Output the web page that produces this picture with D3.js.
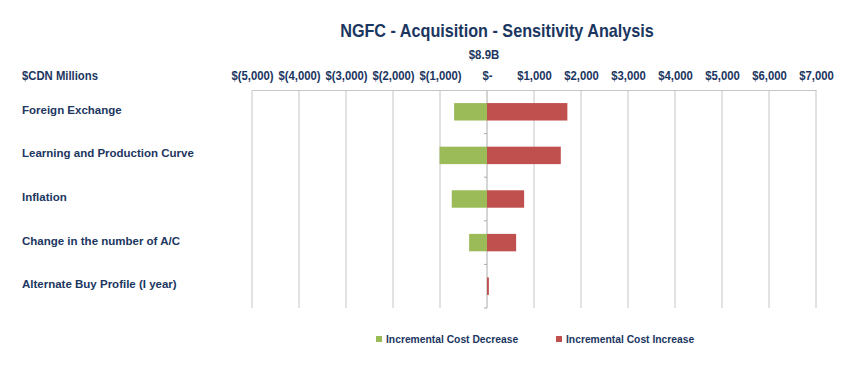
<!DOCTYPE html>
<html>
<head>
<meta charset="utf-8">
<script src="https://cdnjs.cloudflare.com/ajax/libs/d3/7.8.5/d3.min.js"></script>
<style>
  body { margin: 0; background: #fff; }
  text { font-family: "Liberation Sans", Arial, sans-serif; fill: #1b365f; font-weight: bold; }
</style>
</head>
<body>
<div id="chart"></div>
<script>
// Sensitivity (tornado) chart - $CDN millions
var categories = ["Foreign Exchange", "Learning and Production Curve", "Inflation",
                  "Change in the number of A/C", "Alternate Buy Profile (I year)"];
var decrease = [-700, -1010, -750, -380, 0];
var increase = [1710, 1570, 790, 620, 40];
var tickValues = [-5000, -4000, -3000, -2000, -1000, 0, 1000, 2000, 3000, 4000, 5000, 6000, 7000];
var seriesNames = ["Incremental Cost Decrease", "Incremental Cost Increase"];
var colors = ["#9bbb59", "#c0504d"];

var svgWidth = 850, svgHeight = 376;
var margin = { top: 90, left: 252, right: 34, bottom: 68 };
var width = svgWidth - margin.left - margin.right;
var height = svgHeight - margin.top - margin.bottom;

var svg = d3.select("#chart").append("svg")
    .attr("width", svgWidth)
    .attr("height", svgHeight);

var chartGroup = svg.append("g")
    .attr("transform", `translate(${margin.left}, ${margin.top})`);

var x = d3.scaleLinear().domain([-5000, 7000]).range([0, width]);
var y = d3.scaleBand().domain(categories).range([0, height]).paddingInner(0.6).paddingOuter(0.3);
var band = d3.scaleBand().domain(categories).range([0, height]);

// money format like Excel accounting
function money(v) {
    if (v === 0) return "$-";
    var s = d3.format(",")(Math.abs(v));
    return v < 0 ? "$(" + s + ")" : "$" + s;
}

// narrow text: no condensed font installed, so squeeze horizontally
function narrowText(sel, px, cx, cy, anchor, label, sx) {
    sel.append("g")
        .attr("transform", `translate(${cx}, ${cy}) scale(${sx}, 1)`)
        .append("text")
        .attr("dy", "0.35em")
        .attr("text-anchor", anchor)
        .style("font-size", px + "px")
        .text(label);
}

// gridlines
chartGroup.selectAll("line.grid")
    .data(tickValues)
    .enter()
    .append("line")
    .attr("class", "grid")
    .attr("x1", d => x(d)).attr("x2", d => x(d))
    .attr("y1", 0).attr("y2", height)
    .attr("stroke", "#c6c6c6")
    .attr("stroke-width", 1);

// top axis
var topAxis = d3.axisTop(x).tickValues(tickValues).tickFormat(money).tickSize(0).tickPadding(10);
var xAxis = chartGroup.append("g").call(topAxis);
xAxis.select(".domain").attr("stroke", "#c6c6c6");
xAxis.selectAll("text")
    .style("font-size", "13px")
    .style("font-family", null)
    .attr("fill", "#1b365f")
    .attr("transform", "scale(0.87, 1)");

// category ticks on zero axis
chartGroup.append("line")
    .attr("x1", x(0)).attr("x2", x(0))
    .attr("y1", 0).attr("y2", height)
    .attr("stroke", "#c6c6c6");
chartGroup.selectAll("line.ctick")
    .data(categories)
    .enter()
    .append("line")
    .attr("x1", x(0) - 3).attr("x2", x(0))
    .attr("y1", d => band(d) + band.bandwidth()).attr("y2", d => band(d) + band.bandwidth())
    .attr("stroke", "#aaaaaa");

// bars
chartGroup.selectAll("rect.dec")
    .data(decrease)
    .enter()
    .append("rect")
    .attr("x", d => x(d))
    .attr("y", (d, i) => y(categories[i]))
    .attr("width", d => x(0) - x(d))
    .attr("height", y.bandwidth())
    .attr("fill", colors[0]);

chartGroup.selectAll("rect.inc")
    .data(increase)
    .enter()
    .append("rect")
    .attr("x", x(0))
    .attr("y", (d, i) => y(categories[i]))
    .attr("width", d => x(d) - x(0))
    .attr("height", y.bandwidth())
    .attr("fill", colors[1]);

// category labels
svg.selectAll("text.cat")
    .data(categories)
    .enter()
    .append("text")
    .attr("class", "cat")
    .attr("x", 22)
    .attr("y", d => margin.top + band(d) + band.bandwidth() / 2 - 2)
    .attr("dy", "0.35em")
    .style("font-size", "11.5px")
    .text(d => d);

narrowText(svg, 13, 22, 75, "start", "$CDN Millions", 0.87);

// titles
narrowText(svg, 18, 497, 31, "middle", "NGFC - Acquisition - Sensitivity Analysis", 0.9);
narrowText(svg, 13, 484, 54, "middle", "$8.9B", 0.88);

// legend
var legendX = [376, 556];
var legend = svg.selectAll("g.legend")
    .data(seriesNames)
    .enter()
    .append("g")
    .attr("transform", (d, i) => `translate(${legendX[i]}, 339)`);
legend.append("rect")
    .attr("x", 0).attr("y", -3).attr("width", 6).attr("height", 6)
    .attr("fill", (d, i) => colors[i]);
legend.append("text")
    .attr("x", 10).attr("dy", "0.35em")
    .style("font-size", "10.3px")
    .text(d => d);
</script>
</body>
</html>
